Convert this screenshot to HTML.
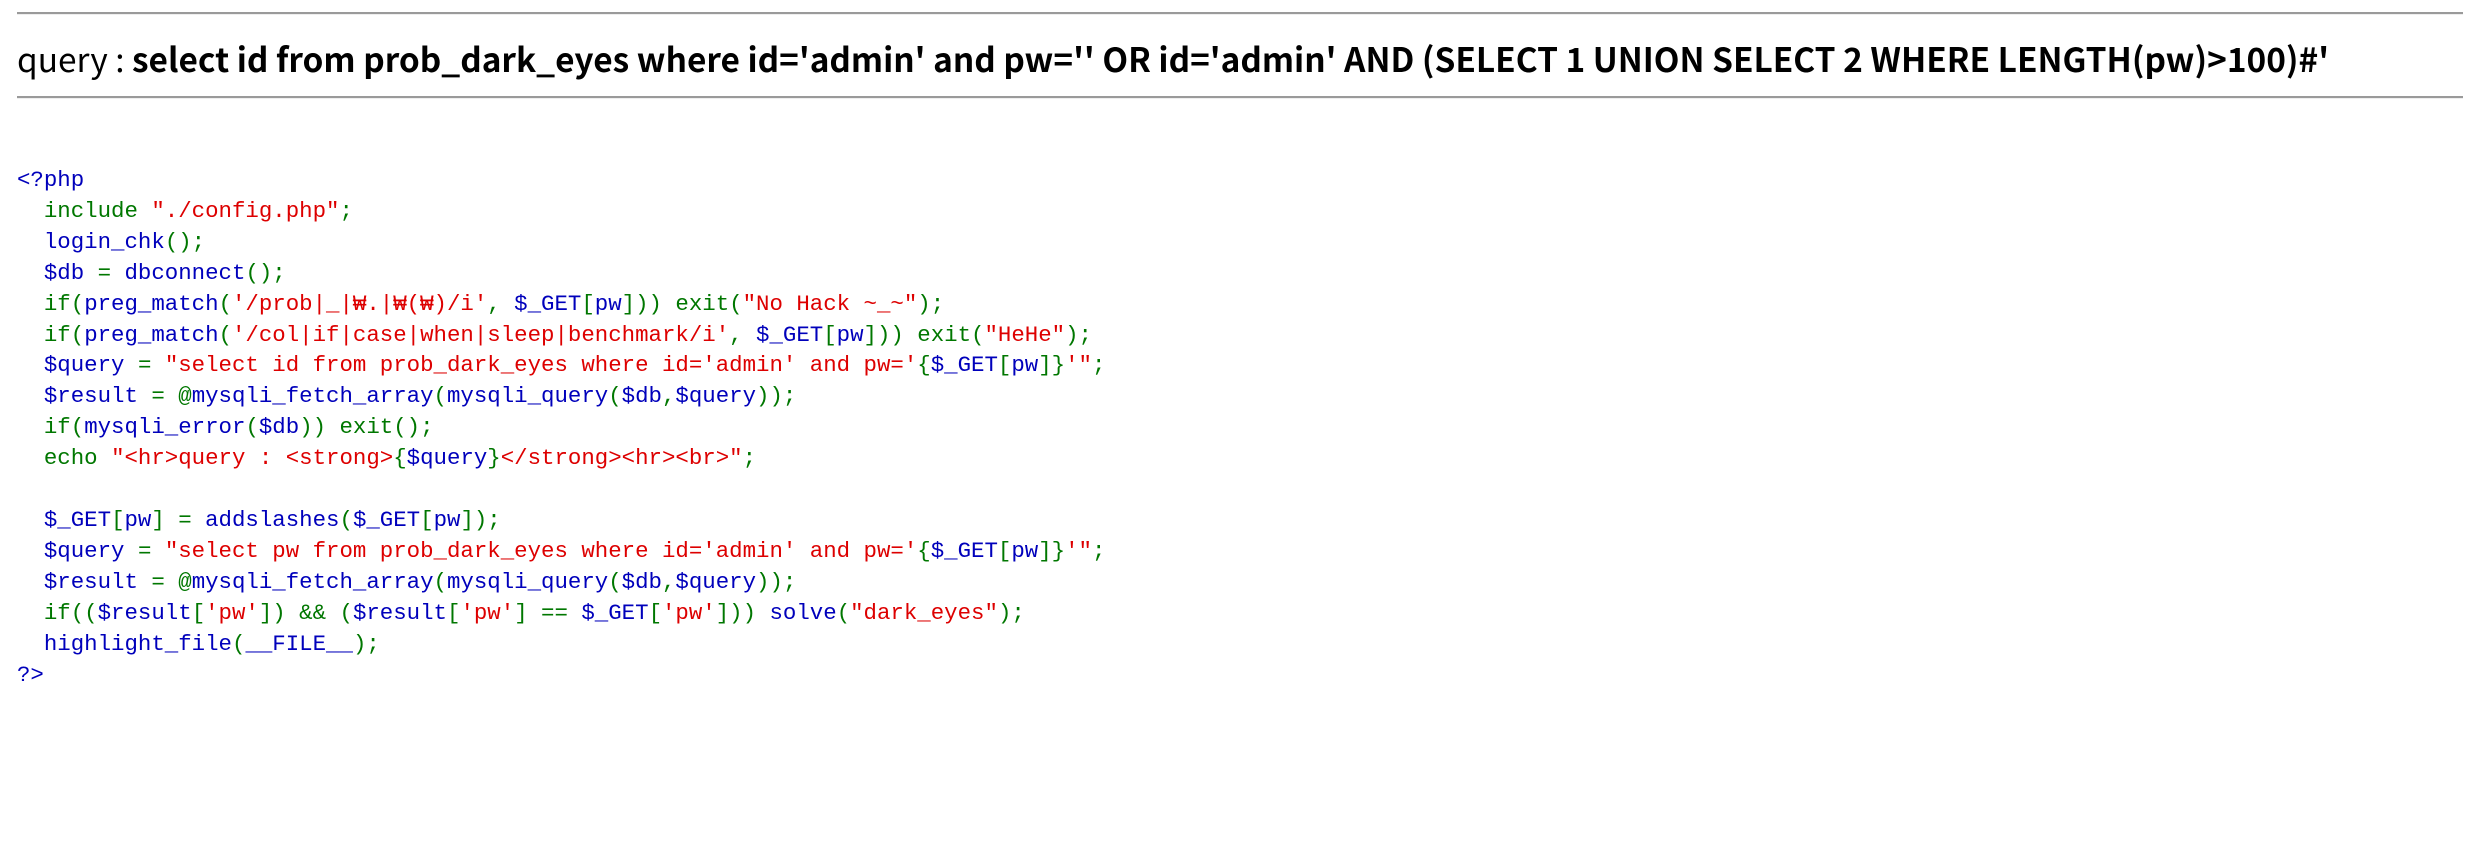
<!DOCTYPE html>
<html><head><meta charset="utf-8"><style>
html,body{margin:0;padding:0;background:#fff;width:2480px;height:861px;overflow:hidden}
.hr{position:absolute;left:17px;right:17px;height:2px;background:#9a9a9a;border-bottom:1px solid #eee}
#q{position:absolute;left:17px;top:38px;font-family:"Noto Sans CJK KR","Liberation Sans",sans-serif;font-size:33.4px;line-height:40px;white-space:nowrap;color:#000}
#q b{font-weight:700}
pre{position:absolute;left:17px;top:165px;margin:0;font-family:"Liberation Mono","Noto Sans CJK KR",monospace;font-size:22.4px;line-height:30.9px;color:#0000BB}
.g{color:#007700}.r{color:#DD0000}.b{color:#0000BB}
</style></head><body>
<div class="hr" style="top:12px"></div>
<div id="q">query : <b>select id from prob_dark_eyes where id='admin' and pw='' OR id='admin' AND (SELECT 1 UNION SELECT 2 WHERE LENGTH(pw)&gt;100)#'</b></div>
<div class="hr" style="top:96px"></div>
<pre>&lt;?php
  <span class="g">include </span><span class="r">"./config.php"</span><span class="g">;</span>
  login_chk<span class="g">();</span>
  $db <span class="g">= </span>dbconnect<span class="g">();</span>
  <span class="g">if(</span>preg_match<span class="g">(</span><span class="r">'/prob|_|₩.|₩(₩)/i'</span><span class="g">, </span>$_GET<span class="g">[</span>pw<span class="g">])) exit(</span><span class="r">"No Hack ~_~"</span><span class="g">);</span>
  <span class="g">if(</span>preg_match<span class="g">(</span><span class="r">'/col|if|case|when|sleep|benchmark/i'</span><span class="g">, </span>$_GET<span class="g">[</span>pw<span class="g">])) exit(</span><span class="r">"HeHe"</span><span class="g">);</span>
  $query <span class="g">= </span><span class="r">"select id from prob_dark_eyes where id='admin' and pw='</span><span class="g">{</span>$_GET<span class="g">[</span>pw<span class="g">]}</span><span class="r">'"</span><span class="g">;</span>
  $result <span class="g">= @</span>mysqli_fetch_array<span class="g">(</span>mysqli_query<span class="g">(</span>$db<span class="g">,</span>$query<span class="g">));</span>
  <span class="g">if(</span>mysqli_error<span class="g">(</span>$db<span class="g">)) exit();</span>
  <span class="g">echo </span><span class="r">"&lt;hr&gt;query : &lt;strong&gt;</span><span class="g">{</span>$query<span class="g">}</span><span class="r">&lt;/strong&gt;&lt;hr&gt;&lt;br&gt;"</span><span class="g">;</span>

  $_GET<span class="g">[</span>pw<span class="g">] = </span>addslashes<span class="g">(</span>$_GET<span class="g">[</span>pw<span class="g">]);</span>
  $query <span class="g">= </span><span class="r">"select pw from prob_dark_eyes where id='admin' and pw='</span><span class="g">{</span>$_GET<span class="g">[</span>pw<span class="g">]}</span><span class="r">'"</span><span class="g">;</span>
  $result <span class="g">= @</span>mysqli_fetch_array<span class="g">(</span>mysqli_query<span class="g">(</span>$db<span class="g">,</span>$query<span class="g">));</span>
  <span class="g">if((</span>$result<span class="g">[</span><span class="r">'pw'</span><span class="g">]) &amp;&amp; (</span>$result<span class="g">[</span><span class="r">'pw'</span><span class="g">] == </span>$_GET<span class="g">[</span><span class="r">'pw'</span><span class="g">])) </span>solve<span class="g">(</span><span class="r">"dark_eyes"</span><span class="g">);</span>
  highlight_file<span class="g">(</span>__FILE__<span class="g">);</span>
?&gt;</pre>
</body></html>
